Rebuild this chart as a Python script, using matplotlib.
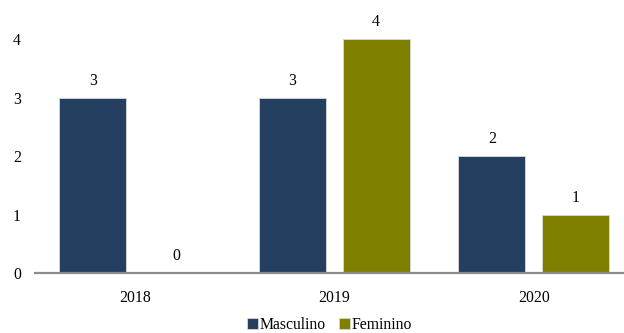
import numpy as np
import matplotlib.pyplot as plt

plt.rcParams['font.family'] = 'Liberation Serif'

years = ['2018', '2019', '2020']
masculino = [3, 3, 2]
feminino = [0, 4, 1]

x = np.arange(len(years))
w = 0.335
off = 0.21

fig = plt.figure(figsize=(6.24, 3.33), dpi=100)
ax = fig.add_axes([0.056, 0.18, 0.944, 0.79])

b1 = ax.bar(x - off, masculino, w, color='#243F60', edgecolor='#d9d9d9', linewidth=0.6, label='Masculino')
b2 = ax.bar(x + off, feminino, w, color='#808000', edgecolor='#d9d9d9', linewidth=0.6, label='Feminino')

for bars, vals in ((b1, masculino), (b2, feminino)):
    for b, v in zip(bars, vals):
        ax.text(b.get_x() + b.get_width() / 2, v + 0.15, str(v), ha='center', va='bottom', fontsize=11.3)

ax.set_xlim(-0.5, 2.452)
ax.set_ylim(0, 4.5)
ax.set_yticks([0, 1, 2, 3, 4])
ax.set_xticks(x)
ax.set_xticklabels(years)
ax.tick_params(axis='both', length=0, labelsize=11.3)
ax.tick_params(axis='y', pad=10)
ax.tick_params(axis='x', pad=12)
for s in ['top', 'right', 'left']:
    ax.spines[s].set_visible(False)
ax.spines['bottom'].set_color('#8c8c8c')
ax.spines['bottom'].set_linewidth(1.6)

ax.legend(loc='lower center', bbox_to_anchor=(0.5, -0.252), ncol=2, frameon=False,
          fontsize=11.3, handlelength=0.7, handleheight=0.7, handletextpad=0.1, columnspacing=0.8,
          borderaxespad=0)

fig.savefig('out.png', dpi=100)
